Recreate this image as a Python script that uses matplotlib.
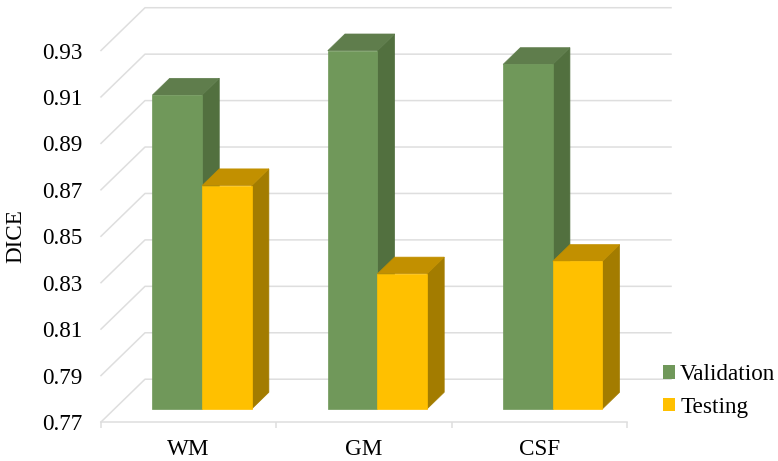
import numpy as np
import matplotlib
matplotlib.use("Agg")
import matplotlib.pyplot as plt
from matplotlib.patches import Patch, Polygon

categories = ['WM', 'GM', 'CSF']
validation = [0.9052, 0.9243, 0.9184]
testing = [0.8662, 0.8282, 0.8336]
y_ticks = [0.77, 0.79, 0.81, 0.83, 0.85, 0.87, 0.89, 0.91, 0.93]

# oblique projection of the fake 3d box, in data units
DEPTH_X = 0.251
DEPTH_Y = 0.01843
BAR_W = 0.283
BAR_D0 = 0.305
BAR_D1 = 0.695

GRID = '#dedede'

plt.rcParams['font.family'] = ['Liberation Serif', 'DejaVu Serif']
plt.rcParams['font.size'] = 16.7


def proj(x, v, d):
    return (x + d * DEPTH_X, v + d * DEPTH_Y)


def box(ax, x0, value, front, top, side, z):
    x1 = x0 + BAR_W
    base = y_ticks[0]
    side_pts = [proj(x1, base, BAR_D0), proj(x1, base, BAR_D1),
                proj(x1, value, BAR_D1), proj(x1, value, BAR_D0)]
    top_pts = [proj(x0, value, BAR_D0), proj(x1, value, BAR_D0),
               proj(x1, value, BAR_D1), proj(x0, value, BAR_D1)]
    front_pts = [proj(x0, base, BAR_D0), proj(x1, base, BAR_D0),
                 proj(x1, value, BAR_D0), proj(x0, value, BAR_D0)]
    for pts, col in [(side_pts, side), (top_pts, top), (front_pts, front)]:
        ax.add_patch(Polygon(pts, closed=True, facecolor=col, edgecolor=col,
                             linewidth=0.5, zorder=z, clip_on=False))


fig = plt.figure(figsize=(7.78, 4.61), dpi=100)
ax = fig.add_axes([101 / 778, 39 / 461, 526 / 778, 371.5 / 461])
ax.set_xlim(0, 3)
ax.set_ylim(0.77, 0.93)

# back wall and left wall lines
for v in y_ticks:
    xs, ys = zip(proj(0, v, 0), proj(0, v, 1), proj(3, v, 1))
    ax.plot(xs, ys, color=GRID, lw=1.1, zorder=1, clip_on=False)

for i in range(len(categories)):
    mid = i + 0.5
    box(ax, mid - BAR_W, validation[i], '#70985a', '#5f7d4c', '#52703f', 3)
    box(ax, mid, testing[i], '#ffc000', '#c29000', '#a37c00', 4)

for s in ['top', 'left', 'right']:
    ax.spines[s].set_visible(False)
ax.spines['bottom'].set_color(GRID)
ax.spines['bottom'].set_linewidth(1.1)

ax.set_yticks(y_ticks)
ax.set_yticklabels([f'{v:.2f}' for v in y_ticks])
ax.set_xticks(np.arange(3) + 0.5)
ax.set_xticklabels(categories)
ax.set_xticks(np.arange(4), minor=True)
ax.tick_params(axis='y', length=0, pad=13.3)
ax.tick_params(axis='x', which='major', length=0, pad=12)
ax.tick_params(axis='x', which='minor', length=4, width=1.1, color=GRID)
ax.set_ylabel('DICE', labelpad=11)

handles = [Patch(facecolor='#70985a', label='Validation'),
           Patch(facecolor='#ffc000', label='Testing')]
fig.legend(handles=handles, loc='lower left', bbox_to_anchor=(663 / 778, 0.0937),
           frameon=False, handlelength=0.52, handleheight=0.52, handletextpad=0.22,
           labelspacing=0.51, borderpad=0, borderaxespad=0)

fig.savefig('out.png', dpi=100)
